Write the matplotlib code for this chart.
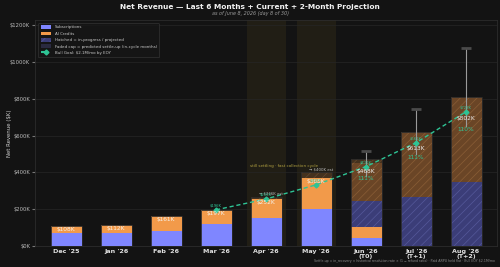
import numpy as np
import matplotlib
matplotlib.use("Agg")
import matplotlib.pyplot as plt
from matplotlib.patches import Patch
from matplotlib.lines import Line2D

# months
months = ["Dec '25", "Jan '26", "Feb '26", "Mar '26", "Apr '26", "May '26",
          "Jun '26\n(T0)", "Jul '26\n(T+1)", "Aug '26\n(T+2)"]

# actual (settled) revenue, $K
subs_actual = [70, 72, 83, 121, 154, 199, 45, 0, 0]
ai_actual = [38, 40, 78, 76, 99, 169, 58, 0, 0]
# projected (hatched) parts, $K
subs_proj = [0, 0, 0, 0, 0, 0, 143, 265, 346]
ai_proj = [0, 0, 0, 0, 0, 0, 207, 353, 462]
# faded settle-up caps, $K
cap_vals = [0, 0, 0, 0, 13, 32, 18, 0, 0]
cap_labels = {4: "→ $266K est", 5: "→ $400K est"}
total_labels = ["$108K", "$112K", "$161K", "$197K", "$252K", "$368K",
                "$468K", "$613K", "$802K"]
pct_labels = {6: "111%", 7: "111%", 8: "110%"}

# bull goal path, starting March
goal_idx = [3, 4, 5, 6, 7, 8]
goal_vals = [196, 255, 332, 431, 561, 729]
goal_labels = ["$196K", "$255K", "$332K", "$431K", "$561K", "$729K"]

# projection range
err_idx = [6, 7, 8]
err_lo = [380, 500, 650]
err_hi = [518, 745, 1074]

BG = "#131313"
SUBS = "#7f86ff"
AI = "#f29a4a"
SUBS_H = "#3b3d78"
AI_H = "#6a4526"
GOAL = "#2ec495"
TXT = "#e0e0e0"

plt.rcParams["hatch.linewidth"] = 0.5
fig = plt.figure(figsize=(5, 2.67), dpi=100, facecolor=BG)
ax = fig.add_axes([0.07, 0.079, 0.924, 0.846], facecolor=BG)

x = np.arange(len(months))
w = 0.62

# settling-month highlight
for i in [4, 5]:
    ax.axvspan(i - 0.39, i + 0.39, color="#c8a832", alpha=0.08, lw=0, zorder=0)

ax.bar(x, subs_actual, w, color=SUBS, zorder=2)
ax.bar(x, ai_actual, w, bottom=subs_actual, color=AI, zorder=2)
b1 = np.array(subs_actual) + np.array(ai_actual)
ax.bar(x, subs_proj, w, bottom=b1, color=SUBS_H, hatch="////",
       edgecolor="#55589a", lw=0, zorder=2)
b2 = b1 + np.array(subs_proj)
ax.bar(x, ai_proj, w, bottom=b2, color=AI_H, hatch="////",
       edgecolor="#8a5e36", lw=0, zorder=2)
b3 = b2 + np.array(ai_proj)
ax.bar(x, cap_vals, w, bottom=b3, color="#4a3520", hatch="////",
       edgecolor="#6a4c30", lw=0, alpha=0.9, zorder=2)
tops = b3 + np.array(cap_vals)
# thin outline
ax.bar(x, tops, w, fill=False, edgecolor="#2a2a2a", lw=0.6, zorder=3)

# labels
for i in range(len(months)):
    if i < 6:
        ax.text(i, b1[i] - 5, total_labels[i], ha="center", va="top",
                fontsize=4.2, color="#f4f0e8", zorder=6)
    else:
        ax.text(i, tops[i] * 0.86, total_labels[i], ha="center", va="center",
                fontsize=4.2, color="#eeeeee", zorder=6)
        ax.text(i, tops[i] * 0.78, pct_labels[i], ha="center", va="center",
                fontsize=4.2, color=GOAL, zorder=6)
for i, s in cap_labels.items():
    ax.text(i + 0.1, tops[i] + 6, s, ha="center", va="bottom",
            fontsize=2.8, color="#bbbbbb", zorder=6)
ax.text(4.35, 436, "still settling · fast collection cycle", ha="center",
        va="center", fontsize=3.0, color="#b0a040", zorder=6)

# error range
for i, lo, hi in zip(err_idx, err_lo, err_hi):
    ax.plot([i, i], [lo, hi], color="#9a9a9a", lw=0.8, zorder=4)
    ax.plot([i - 0.1, i + 0.1], [hi, hi], color="#4a4a4a", lw=2.0,
            solid_capstyle="butt", zorder=4)

# goal path
ax.plot(goal_idx, goal_vals, color=GOAL, ls=(0, (3, 2)), lw=1.0,
        marker="D", ms=2.5, zorder=5)
for i, v, s in zip(goal_idx, goal_vals, goal_labels):
    ax.text(i, v + 14, s, ha="center", va="bottom", fontsize=2.7,
            color=GOAL, zorder=6)

ax.set_xlim(-0.62, 8.62)
ax.set_ylim(0, 1228)
ax.set_yticks(np.arange(0, 1201, 200))
ax.set_yticklabels([f"${v}K" for v in range(0, 1201, 200)])
ax.set_xticks(x)
ax.set_xticklabels(months, fontweight="bold", linespacing=1.0)
ax.tick_params(axis="x", labelsize=4.6, colors=TXT, length=0, pad=2.5)
ax.tick_params(axis="y", labelsize=3.8, colors="#bbbbbb", length=2,
               color="#777777", pad=1.5)
ax.grid(axis="y", color="#262626", lw=0.5, zorder=0)
ax.set_axisbelow(True)
for sp in ax.spines.values():
    sp.set_color("#2c2c2c")
    sp.set_linewidth(0.6)
ax.set_ylabel("Net Revenue ($K)", fontsize=3.9, color="#cccccc")
ax.yaxis.set_label_coords(-0.05, 0.5)

handles = [
    Patch(facecolor=SUBS, label="Subscriptions"),
    Patch(facecolor=AI, label="AI Credits"),
    Patch(facecolor=SUBS_H, hatch="////", edgecolor="#55589a", lw=0,
          label="Hatched = in-progress / projected"),
    Patch(facecolor="#2a2a40", label="Faded cap = predicted settle-up (in-cycle months)"),
    Line2D([0], [0], color=GOAL, ls=(0, (3, 2)), marker="D", ms=2.5,
           label="Bull Goal: $2.1M/mo by EOY"),
]
leg = ax.legend(handles=handles, loc="upper left", fontsize=2.9,
                frameon=True, facecolor="#161616", edgecolor="#3a3a3a",
                labelcolor="#cccccc", handlelength=2.6, handleheight=1.0,
                borderpad=0.6, labelspacing=0.55, bbox_to_anchor=(0.003, 0.997))
leg.get_frame().set_linewidth(0.5)

fig.text(0.5, 0.972, "Net Revenue — Last 6 Months + Current + 2-Month Projection",
         ha="center", va="center", fontsize=5.3, fontweight="bold", color="#f2f2f2")
fig.text(0.5, 0.949, "as of June 8, 2026 (day 8 of 30)", ha="center",
         va="center", fontsize=3.5, style="italic", color="#999999")
fig.text(0.99, 0.022,
         "Settle-up = in_recovery × historical resolution rate × (1 − refund ratio) · "
         "Paid ARPU held flat · Bull EOY $2.1M/mo",
         ha="right", va="center", fontsize=2.3, color="#888888")

fig.savefig("out.png", dpi=100, facecolor=BG)
